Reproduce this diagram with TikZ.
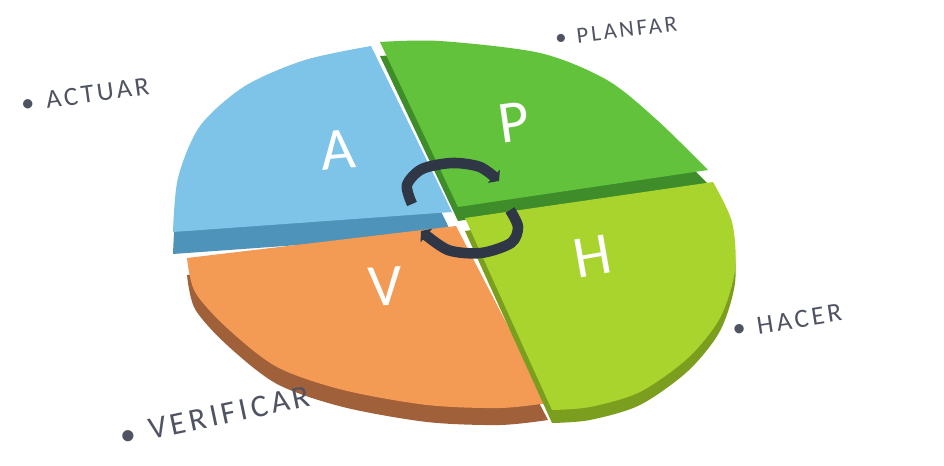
\documentclass[tikz,border=0pt]{standalone}
\usepackage{fontspec}
\setmainfont{Carlito}
\newfontfamily\etiqfont[LetterSpace=12]{Carlito}
\usepackage{tikz}
\usetikzlibrary{arrows.meta}

\definecolor{azul}{HTML}{7EC4E8}
\definecolor{azulosc}{HTML}{4E93BA}
\definecolor{verde}{HTML}{62C23C}
\definecolor{verdeosc}{HTML}{3E8C2A}
\definecolor{lima}{HTML}{A9D42E}
\definecolor{limaosc}{HTML}{7C9E1F}
\definecolor{naranja}{HTML}{F39A55}
\definecolor{naranjaosc}{HTML}{A0603A}
\definecolor{tinta}{HTML}{2F3646}
\definecolor{gristexto}{HTML}{505462}

% contornos de los cuatro trozos (coordenadas en pixeles)
\newcommand{\trozoA}{(452,212) -- plot[smooth] coordinates {(371,46) (305,60) (245,86) (200,126) (178,178) (173,232)} -- cycle}
\newcommand{\trozoP}{(458,207) -- plot[smooth] coordinates {(380,42) (440,41) (540,53) (607,80) (657,120) (708,170)} -- cycle}
\newcommand{\trozoH}{(465,218) -- plot[smooth] coordinates {(713,182) (732,222) (735,270) (720,318) (688,358) (640,392) (590,407) (552,410)} -- cycle}
\newcommand{\trozoV}{(456,226) -- plot[smooth] coordinates {(548,403) (500,408) (427,405) (343,390) (277,367) (227,328) (195,292) (187,258)} -- cycle}

\tikzset{
  letra/.style={text=white, font=\fontsize{34}{34}\selectfont},
  etiqueta/.style={text=gristexto},
  flecha/.style={draw=tinta, line width=6pt, -{Triangle[length=4pt,width=10pt]}}
}

\begin{document}
\begin{tikzpicture}[x=0.02cm, y=-0.02cm]
    \fill[white] (0,0) rectangle (944,466);
    \useasboundingbox (0,0) rectangle (944,466);

    % trozos de atras
    \fill[azulosc, shift={(0,22)}] \trozoA;
    \fill[azul] \trozoA;
    \fill[verdeosc, shift={(0,14)}] \trozoP;
    \fill[verde] \trozoP;

    % trozos de delante
    \fill[naranjaosc, shift={(0,17)}] \trozoV;
    \fill[naranja] \trozoV;
    \fill[limaosc, shift={(0,13)}] \trozoH;
    \fill[lima] \trozoH;

    % letras
    \node[letra, rotate=5] (a) at (338,150) {A};
    \node[letra, rotate=8] (p) at (514,122) {P};
    \node[letra, rotate=10] (h) at (592,256) {H};
    \node[letra, rotate=3] (v) at (385,286) {V};

    % ciclo
    \draw[flecha] plot[smooth] coordinates {(412,204) (407,185) (422,169) (452,163) (480,167) (499,181)};
    \draw[flecha] plot[smooth] coordinates {(510,210) (518,227) (511,243) (481,253) (448,250) (421,231)};

    % etiquetas
    \node[etiqueta, rotate=8, font=\etiqfont\fontsize{15}{15}\selectfont] (actuar) at (85,95) {\textbullet\hspace{0.45em}ACTUAR};
    \node[etiqueta, rotate=7, font=\etiqfont\fontsize{13}{13}\selectfont] (planfar) at (616,31) {\textbullet\hspace{0.45em}PLANFAR};
    \node[etiqueta, rotate=9, font=\etiqfont\fontsize{15}{15}\selectfont] (hacer) at (787,321) {\textbullet\hspace{0.45em}HACER};
    \node[etiqueta, rotate=12, font=\etiqfont\fontsize{18}{18}\selectfont] (verificar) at (215,416) {\textbullet\hspace{0.45em}VERIFICAR};

\end{tikzpicture}
\end{document}
